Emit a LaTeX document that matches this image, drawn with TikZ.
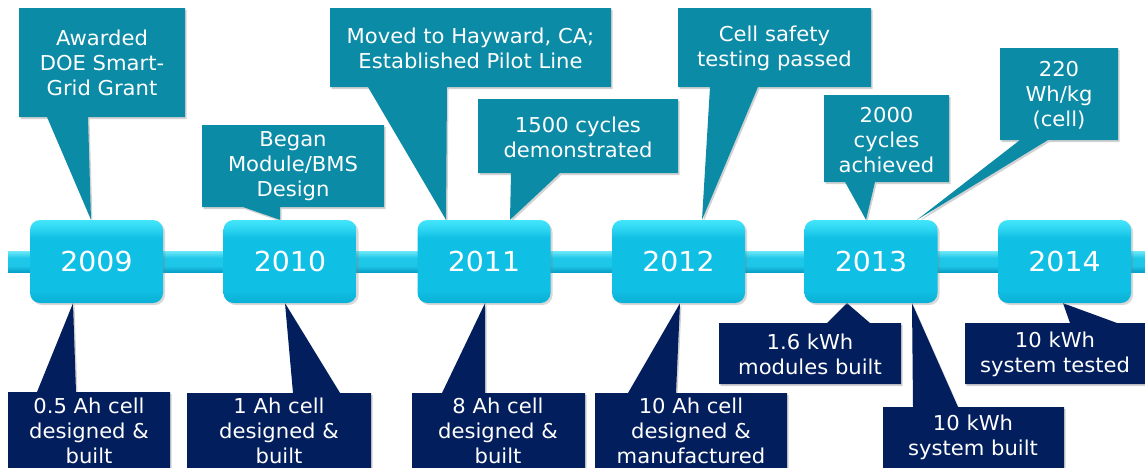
\documentclass[tikz,border=0pt]{standalone}
\usepackage{fontspec}
\setmainfont[FakeStretch=1.03]{DejaVu Sans}
\usetikzlibrary{shadows}
\pgfdeclarelayer{bg}
\pgfsetlayers{bg,main}
\definecolor{calTeal}{RGB}{12,139,166}
\definecolor{calNavy}{RGB}{3,30,92}
\definecolor{yrTop}{RGB}{66,230,251}
\definecolor{yrMid}{RGB}{16,191,228}
\definecolor{yrBot}{RGB}{10,176,214}
\definecolor{barTop}{RGB}{110,232,248}
\definecolor{barMid}{RGB}{30,198,232}
\definecolor{barBot}{RGB}{8,160,200}
\pgfdeclareverticalshading{yrshade}{100bp}{color(0bp)=(yrBot); color(25bp)=(yrBot); color(33bp)=(yrMid); color(64bp)=(yrMid); color(71bp)=(yrTop!70!yrMid); color(75bp)=(yrTop); color(100bp)=(yrTop)}
\pgfdeclareverticalshading{barshade}{100bp}{color(0bp)=(barBot); color(25bp)=(barBot); color(40bp)=(barMid); color(58bp)=(barMid); color(75bp)=(barTop); color(100bp)=(barTop)}
\tikzset{
  callshadow/.style={drop shadow={opacity=0.35, shadow xshift=1.5pt, shadow yshift=-2pt}},
  topcall/.style={fill=calTeal, callshadow},
  botcall/.style={fill=calNavy, callshadow},
  calltext/.style={text=white, align=center, inner sep=0pt, font=\fontsize{20.5}{25}\selectfont},
  yearbox/.style={rounded corners=10pt, minimum width=133pt, minimum height=83pt, inner sep=0pt,
    shade, shading=yrshade, drop shadow={opacity=0.3, shadow xshift=2pt, shadow yshift=-2pt},
    text=white, font=\fontsize{27.5}{30}\selectfont},
}
\begin{document}
\begin{tikzpicture}[x=1pt,y=-1pt]
\path[use as bounding box] (0,0) rectangle (1145,467);

% year boxes
\node[yearbox] (y2009) at (96.5,261.5) {2009};
\node[yearbox] (y2010) at (290,261.5) {2010};
\node[yearbox] (y2011) at (484,261.5) {2011};
\node[yearbox] (y2012) at (678.5,261.5) {2012};
\node[yearbox] (y2013) at (871,261.5) {2013};
\node[yearbox] (y2014) at (1064.5,261.5) {2014};

\begin{pgfonlayer}{bg}
  \fill[white] (0,0) rectangle (1145,467);
  % timeline bar
  \shade[shading=barshade] (8,251) rectangle (1150,272);
  % top callouts
  \fill[topcall] (19,8) -- (185,8) -- (185,117) -- (88,117) -- ([xshift=-5.5pt]y2009.north) -- (47,117) -- (19,117) -- cycle;
  \fill[topcall] (202,125) -- (384,125) -- (384,207) -- (280,207) -- ([xshift=-10pt]y2010.north) -- (243,207) -- (202,207) -- cycle;
  \fill[topcall] (330,8) -- (611,8) -- (611,87) -- (447,87) -- ([xshift=-38pt]y2011.north) -- (368,87) -- (330,87) -- cycle;
  \fill[topcall] (478,99) -- (678,99) -- (678,173) -- (560,173) -- ([xshift=26pt]y2011.north) -- (511,173) -- (478,173) -- cycle;
  \fill[topcall] (678,8) -- (871,8) -- (871,87) -- (758,87) -- ([xshift=23.5pt]y2012.north) -- (710,87) -- (678,87) -- cycle;
  \fill[topcall] (824,95) -- (949,95) -- (949,182) -- (875,182) -- ([xshift=-5pt]y2013.north) -- (845,182) -- (824,182) -- cycle;
  \fill[topcall] (1000,48) -- (1118,48) -- (1118,140) -- (1048,140) -- ([xshift=46pt]y2013.north) -- (1020,140) -- (1000,140) -- cycle;
  % bottom callouts
  \fill[botcall] (8,392) -- (37,392) -- ([xshift=-23.5pt]y2009.south) -- (76,392) -- (170,392) -- (170,480) -- (8,480) -- cycle;
  \fill[botcall] (187,393) -- (293,393) -- ([xshift=-5pt]y2010.south) -- (340,393) -- (371,393) -- (371,480) -- (187,480) -- cycle;
  \fill[botcall] (412,393) -- (442,393) -- ([xshift=1pt]y2011.south) -- (485,393) -- (585,393) -- (585,480) -- (412,480) -- cycle;
  \fill[botcall] (595,393) -- (628,393) -- ([xshift=1.5pt]y2012.south) -- (676,393) -- (787,393) -- (787,480) -- (595,480) -- cycle;
  \fill[botcall] (719,323) -- (827,323) -- ([xshift=-24pt]y2013.south) -- (870,323) -- (901,323) -- (901,384) -- (719,384) -- cycle;
  \fill[botcall] (883,407) -- (913,407) -- ([xshift=41pt]y2013.south) -- (958,407) -- (1064,407) -- (1064,480) -- (883,480) -- cycle;
  \fill[botcall] (965,323) -- (1070,323) -- ([xshift=-1.5pt]y2014.south) -- (1117,323) -- (1150,323) -- (1150,384) -- (965,384) -- cycle;
\end{pgfonlayer}

% texts, top
\node[calltext] (t1) at (102,63) {Awarded\\DOE Smart-\\Grid Grant};
\node[calltext] (t2) at (293,166) {Began\\Module/BMS\\Design};
\node[calltext] (t3) at (470.5,48.5) {Moved to Hayward, CA;\\Established Pilot Line};
\node[calltext] (t4) at (578,137) {1500 cycles\\demonstrated};
\node[calltext] (t5) at (774.5,48.5) {Cell safety\\testing passed};
\node[calltext] (t6) at (886.5,140) {2000\\cycles\\achieved};
\node[calltext] (t7) at (1059,95) {220\\Wh/kg\\(cell)};
% texts, bottom
\node[calltext] (b1) at (89,431) {0.5 Ah cell\\designed \&\\built};
\node[calltext] (b2) at (279,431) {1 Ah cell\\designed \&\\built};
\node[calltext] (b3) at (498,431) {8 Ah cell\\designed \&\\built};
\node[calltext] (b4) at (691,431) {10 Ah cell\\designed \&\\manufactured};
\node[calltext] (b5) at (810,354.5) {1.6 kWh\\modules built};
\node[calltext] (b6) at (973,437.5) {10 kWh\\system built};
\node[calltext] (b7) at (1055,354.5) {10 kWh\\system tested};
\end{tikzpicture}
\end{document}
